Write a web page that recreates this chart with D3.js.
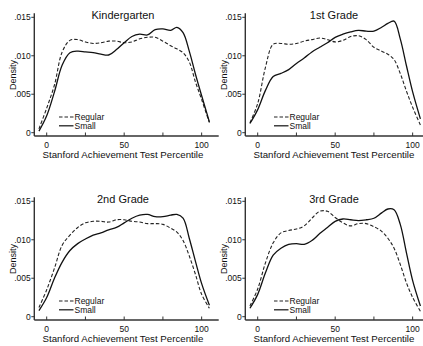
<!DOCTYPE html>
<html>
<head>
<meta charset="utf-8">
<script src="https://cdn.jsdelivr.net/npm/d3@7"></script>
<style>
  body { margin: 0; background: #fff; }
  svg { display: block; font-family: "Liberation Sans", Arial, sans-serif; }
  .title { font-size: 11px; fill: #111; }
  .axis-label { font-size: 9.7px; fill: #111; }
  .tick-label { font-size: 8.5px; fill: #111; }
  .legend { font-size: 8.5px; fill: #111; }
</style>
</head>
<body>
<svg id="chart" width="423" height="346"></svg>
<script>
// Kernel density of test percentile, regular vs small classes, by grade.
const percentile = [-5, 0, 5, 10, 15, 20, 25, 30, 35, 40, 45, 50, 55, 60, 65, 70, 75, 80, 84, 88, 92, 96, 100, 105];

const kinderRegular = [.0005, .0032, .0062, .0105, .0120, .0121, .0118, .0116, .0117, .0119, .0119, .0117, .0118, .0122, .0124, .0124, .0119, .0113, .0109, .0104, .0092, .0066, .0043, .0013];
const kinderSmall   = [.0002, .0022, .0053, .0088, .0104, .0106, .0105, .0104, .0102, .0101, .0108, .0117, .0125, .0128, .0127, .0134, .0135, .0133, .0137, .0130, .0106, .0076, .0048, .0014];

const grade1Regular = [.0013, .0038, .0085, .0115, .0116, .0115, .0116, .0119, .0121, .0123, .0121, .0118, .0120, .0125, .0126, .0121, .0111, .0106, .0102, .0095, .0077, .0054, .0033, .0010];
const grade1Small   = [.0012, .0030, .0055, .0073, .0077, .0082, .0090, .0097, .0105, .0111, .0117, .0124, .0128, .0131, .0133, .0132, .0132, .0137, .0142, .0145, .0122, .0087, .0053, .0018];

const grade2Regular = [.0012, .0035, .0063, .0093, .0106, .0116, .0122, .0124, .0124, .0123, .0126, .0126, .0124, .0123, .0121, .0121, .0120, .0115, .0110, .0099, .0079, .0055, .0029, .0011];
const grade2Small   = [.0008, .0025, .0050, .0071, .0086, .0095, .0101, .0106, .0109, .0113, .0116, .0122, .0128, .0132, .0133, .0130, .0130, .0132, .0133, .0128, .0102, .0072, .0043, .0015];

const grade3Regular = [.0014, .0036, .0070, .0096, .0109, .0112, .0114, .0118, .0128, .0137, .0137, .0129, .0122, .0118, .0121, .0121, .0117, .0111, .0102, .0089, .0068, .0044, .0025, .0007];
const grade3Small   = [.0011, .0029, .0057, .0080, .0089, .0094, .0095, .0094, .0099, .0108, .0116, .0124, .0127, .0126, .0125, .0126, .0128, .0135, .0140, .0139, .0120, .0083, .0047, .0014];

const titles = ['Kindergarten', '1st Grade', '2nd Grade', '3rd Grade'];
const seriesNames = ['Regular', 'Small'];
const yTicks = [0, .005, .010, .015];
const xTicks = [0, 25, 50, 75, 100];
const xTickLabels = [0, 50, 100];

const regular = [kinderRegular, grade1Regular, grade2Regular, grade3Regular];
const small = [kinderSmall, grade1Small, grade2Small, grade3Small];

const svg = d3.select('#chart');
const panelW = 211, panelH = 184;
const legendX = [59, 63, 59, 63];

const x = d3.scaleLinear().domain([-8, 111]).range([34.3, 218.7]);
const y = d3.scaleLinear().domain([0, 0.015]).range([132.7, 17.3]);
const yBottom = 136, yTop = 13.3;

const fmt = d => d === 0 ? '0' : d3.format('.3f')(d).replace(/^0/, '');

const line = d3.line()
  .x(d => x(d[0]))
  .y(d => y(d[1]))
  .curve(d3.curveCatmullRom.alpha(0.5));

titles.forEach((title, i) => {
  const g = svg.append('g')
    .attr('transform', `translate(${(i % 2) * panelW},${Math.floor(i / 2) * panelH})`);

  // axis lines
  g.append('line')
    .attr('x1', x.range()[0]).attr('x2', x.range()[1])
    .attr('y1', yBottom).attr('y2', yBottom)
    .attr('stroke', '#333').attr('stroke-width', 1.6);
  g.append('line')
    .attr('x1', x.range()[0]).attr('x2', x.range()[0])
    .attr('y1', yBottom).attr('y2', yTop)
    .attr('stroke', '#333').attr('stroke-width', 1.4);

  // y ticks
  yTicks.forEach(t => {
    g.append('line')
      .attr('x1', x.range()[0] - 3).attr('x2', x.range()[0])
      .attr('y1', y(t)).attr('y2', y(t))
      .attr('stroke', '#333').attr('stroke-width', 1);
    g.append('text')
      .attr('class', 'tick-label')
      .attr('x', x.range()[0] - 3.5)
      .attr('y', y(t))
      .attr('dy', '0.35em')
      .attr('text-anchor', 'end')
      .text(fmt(t));
  });

  // x ticks
  xTicks.forEach(t => {
    g.append('line')
      .attr('x1', x(t)).attr('x2', x(t))
      .attr('y1', yBottom).attr('y2', yBottom - 3.5)
      .attr('stroke', '#333').attr('stroke-width', 1);
  });
  xTickLabels.forEach(t => {
    g.append('text')
      .attr('class', 'tick-label')
      .attr('x', x(t))
      .attr('y', 148)
      .attr('text-anchor', 'middle')
      .text(t);
  });

  // density curves
  g.append('path')
    .datum(percentile.map((p, k) => [p, regular[i][k]]))
    .attr('fill', 'none')
    .attr('stroke', '#222')
    .attr('stroke-width', 1.1)
    .attr('stroke-dasharray', '3.5,2')
    .attr('d', line);

  g.append('path')
    .datum(percentile.map((p, k) => [p, small[i][k]]))
    .attr('fill', 'none')
    .attr('stroke', '#111')
    .attr('stroke-width', 1.3)
    .attr('d', line);

  // titles and labels
  g.append('text')
    .attr('class', 'title')
    .attr('x', 123)
    .attr('y', 18.5)
    .attr('text-anchor', 'middle')
    .text(title);

  g.append('text')
    .attr('class', 'axis-label')
    .attr('x', 123)
    .attr('y', 157.5)
    .attr('text-anchor', 'middle')
    .text('Stanford Achievement Test Percentile');

  g.append('text')
    .attr('class', 'axis-label')
    .attr('transform', `translate(16,${(y(0) + y(0.015)) / 2}) rotate(-90)`)
    .attr('text-anchor', 'middle')
    .style('font-size', '9px')
    .text('Density');

  // legend
  seriesNames.forEach((name, k) => {
    const ly = 117 + k * 8.8;
    g.append('line')
      .attr('x1', legendX[i]).attr('x2', legendX[i] + 14.5)
      .attr('y1', ly).attr('y2', ly)
      .attr('stroke', '#222')
      .attr('stroke-width', k === 0 ? 1.1 : 1.3)
      .attr('stroke-dasharray', k === 0 ? '3.5,2' : null);
    g.append('text')
      .attr('class', 'legend')
      .attr('x', legendX[i] + 15.5)
      .attr('y', ly)
      .attr('dy', '0.35em')
      .text(name);
  });
});
</script>
</body>
</html>
